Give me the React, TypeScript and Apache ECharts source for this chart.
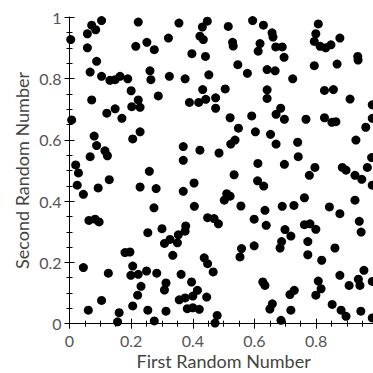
import React, { useEffect, useRef } from "react";
import * as echarts from "echarts";

const xValues: number[] = [
  0.104, 0.072, 0.085, 0.058, 0.004, 0.223, 0.251, 0.215, 0.275, 0.058,
  0.088, 0.067, 0.104, 0.131, 0.148, 0.164, 0.189, 0.261, 0.264, 0.200,
  0.355, 0.447, 0.431, 0.515, 0.594, 0.629, 0.321, 0.423, 0.434, 0.529,
  0.531, 0.618, 0.612, 0.397, 0.441, 0.546, 0.577, 0.641, 0.324, 0.375,
  0.452, 0.432, 0.505, 0.641, 0.641, 0.657, 0.660, 0.669, 0.690, 0.696,
  0.807, 0.799, 0.794, 0.813, 0.831, 0.848, 0.877, 0.935, 0.936, 0.794,
  0.868, 0.667, 0.724, 0.827, 0.856, 0.072, 0.223, 0.288, 0.202, 0.229,
  0.148, 0.121, 0.170, 0.007, 0.229, 0.205, 0.080, 0.088, 0.115, 0.123,
  0.067, 0.020, 0.389, 0.419, 0.442, 0.474, 0.474, 0.521, 0.591, 0.548,
  0.603, 0.652, 0.537, 0.523, 0.369, 0.423, 0.485, 0.369, 0.611, 0.910,
  0.982, 0.685, 0.670, 0.697, 0.767, 0.827, 0.851, 0.864, 0.982, 0.961,
  0.670, 0.740, 0.929, 0.742, 0.980, 0.697, 0.796, 0.885, 0.897, 0.966,
  0.029, 0.025, 0.045, 0.093, 0.129, 0.259, 0.229, 0.281, 0.274, 0.063,
  0.083, 0.096, 0.254, 0.300, 0.308, 0.534, 0.610, 0.630, 0.404, 0.369,
  0.510, 0.521, 0.502, 0.556, 0.405, 0.634, 0.448, 0.469, 0.483, 0.599,
  0.638, 0.377, 0.375, 0.353, 0.326, 0.350, 0.599, 0.558, 0.778, 0.926,
  0.948, 0.982, 0.762, 0.690, 0.728, 0.843, 0.877, 0.926, 0.762, 0.780,
  0.799, 0.699, 0.718, 0.688, 0.773, 0.940, 0.946, 0.861, 0.180, 0.196,
  0.045, 0.126, 0.205, 0.199, 0.223, 0.250, 0.283, 0.313, 0.308, 0.232,
  0.221, 0.104, 0.061, 0.205, 0.161, 0.254, 0.156, 0.275, 0.313, 0.335,
  0.362, 0.396, 0.415, 0.400, 0.375, 0.356, 0.445, 0.382, 0.400, 0.421,
  0.437, 0.448, 0.466, 0.479, 0.472, 0.553, 0.627, 0.634, 0.650, 0.683,
  0.773, 0.818, 0.955, 0.877, 0.937, 0.942, 0.907, 0.982, 0.807, 0.816,
  0.799, 0.729, 0.715, 0.658, 0.718, 0.852, 0.881, 0.897, 0.945, 0.982, 0.686,
];

const yValues: number[] = [
  0.989, 0.974, 0.959, 0.946, 0.927, 0.984, 0.918, 0.905, 0.894, 0.900,
  0.856, 0.821, 0.807, 0.794, 0.796, 0.807, 0.799, 0.825, 0.796, 0.760,
  0.981, 0.987, 0.968, 0.970, 0.989, 0.974, 0.932, 0.938, 0.927, 0.918,
  0.906, 0.914, 0.889, 0.881, 0.872, 0.845, 0.817, 0.829, 0.807, 0.799,
  0.812, 0.764, 0.766, 0.763, 0.735, 0.949, 0.935, 0.903, 0.903, 0.869,
  0.978, 0.946, 0.921, 0.905, 0.900, 0.910, 0.932, 0.872, 0.860, 0.842,
  0.847, 0.825, 0.799, 0.761, 0.764, 0.730, 0.730, 0.743, 0.708, 0.706,
  0.701, 0.687, 0.670, 0.665, 0.626, 0.603, 0.612, 0.581, 0.564, 0.548,
  0.545, 0.518, 0.722, 0.722, 0.732, 0.737, 0.703, 0.672, 0.678, 0.638,
  0.626, 0.618, 0.599, 0.586, 0.578, 0.566, 0.557, 0.533, 0.523, 0.733,
  0.714, 0.703, 0.683, 0.667, 0.667, 0.672, 0.657, 0.659, 0.670, 0.641,
  0.586, 0.592, 0.599, 0.545, 0.542, 0.520, 0.510, 0.510, 0.501, 0.510,
  0.492, 0.452, 0.422, 0.443, 0.470, 0.497, 0.446, 0.441, 0.378, 0.337,
  0.341, 0.332, 0.297, 0.310, 0.262, 0.486, 0.466, 0.449, 0.459, 0.432,
  0.424, 0.416, 0.403, 0.384, 0.383, 0.370, 0.346, 0.343, 0.326, 0.341,
  0.321, 0.319, 0.302, 0.290, 0.275, 0.264, 0.254, 0.245, 0.484, 0.484,
  0.471, 0.452, 0.411, 0.383, 0.386, 0.381, 0.359, 0.403, 0.323, 0.326,
  0.308, 0.307, 0.286, 0.268, 0.268, 0.334, 0.299, 0.247, 0.232, 0.234,
  0.183, 0.165, 0.188, 0.158, 0.161, 0.172, 0.165, 0.133, 0.110, 0.122,
  0.093, 0.076, 0.044, 0.058, 0.036, 0.044, 0.006, 0.009, 0.041, 0.223,
  0.161, 0.136, 0.109, 0.090, 0.084, 0.078, 0.087, 0.049, 0.052, 0.047,
  0.215, 0.196, 0.169, 0.027, 0.002, 0.218, 0.136, 0.125, 0.048, 0.247,
  0.225, 0.207, 0.174, 0.158, 0.145, 0.125, 0.125, 0.138, 0.139, 0.114,
  0.093, 0.109, 0.095, 0.065, 0.044, 0.063, 0.044, 0.024, 0.041, 0.019, 0.011,
];

const xTitle = "First Random Number";
const yTitle = "Second Random Number";
const FONT = "Lato";

export default function App() {
  const ref = useRef<HTMLDivElement>(null);
  useEffect(() => {
    if (!ref.current) return;
    const chart = echarts.init(ref.current, undefined, { renderer: "svg" });
    const points = xValues.map((x, i) => [x, yValues[i]]);
    const baseAxis = (inside: boolean, showLabel: boolean, name: string, showMax: boolean) => ({
      type: "value" as const,
      min: 0,
      max: 1,
      interval: 0.2,
      splitLine: { show: false },
      axisLine: { show: true, onZero: false, lineStyle: { color: "#000", width: 1 } },
      axisTick: { show: true, inside, length: 5, lineStyle: { color: "#000" } },
      minorTick: { show: true, splitNumber: 4, length: 3, lineStyle: { color: "#000" } },
      axisLabel: {
        show: showLabel,
        color: "#555",
        fontFamily: FONT,
        fontSize: 16,
        margin: 8,
        lineHeight: 18,
        showMaxLabel: showMax,
      },
      name: showLabel ? name : "",
      nameLocation: "middle" as const,
      nameMoveOverlap: false,
      nameTextStyle: { color: "#444", fontFamily: FONT, fontSize: 18, lineHeight: 20 },
    });
    chart.setOption({
      animation: false,
      backgroundColor: "#fff",
      grid: {
        left: 69.5,
        top: 17.2,
        width: 308.3,
        height: 306.5,
        containLabel: false,
        outerBoundsMode: "none",
      },
      xAxis: [
        { ...baseAxis(false, true, xTitle, false), position: "bottom", nameGap: 27 },
        { ...baseAxis(true, false, "", false), position: "bottom" },
      ],
      yAxis: [
        { ...baseAxis(false, true, yTitle, true), position: "left", nameGap: 38 },
        { ...baseAxis(true, false, "", true), position: "left" },
      ],
      series: [
        {
          type: "scatter",
          xAxisIndex: 0,
          yAxisIndex: 0,
          data: points,
          symbol: "circle",
          symbolSize: 9,
          itemStyle: { color: "#000", opacity: 1 },
        },
      ],
    });
    return () => chart.dispose();
  }, []);
  return (
    <div
      style={{
        position: "fixed",
        left: 0,
        top: 0,
        width: 373,
        height: 373,
        overflow: "hidden",
        background: "#fff",
      }}
    >
      <div ref={ref} style={{ width: 392, height: 373 }} />
    </div>
  );
}
